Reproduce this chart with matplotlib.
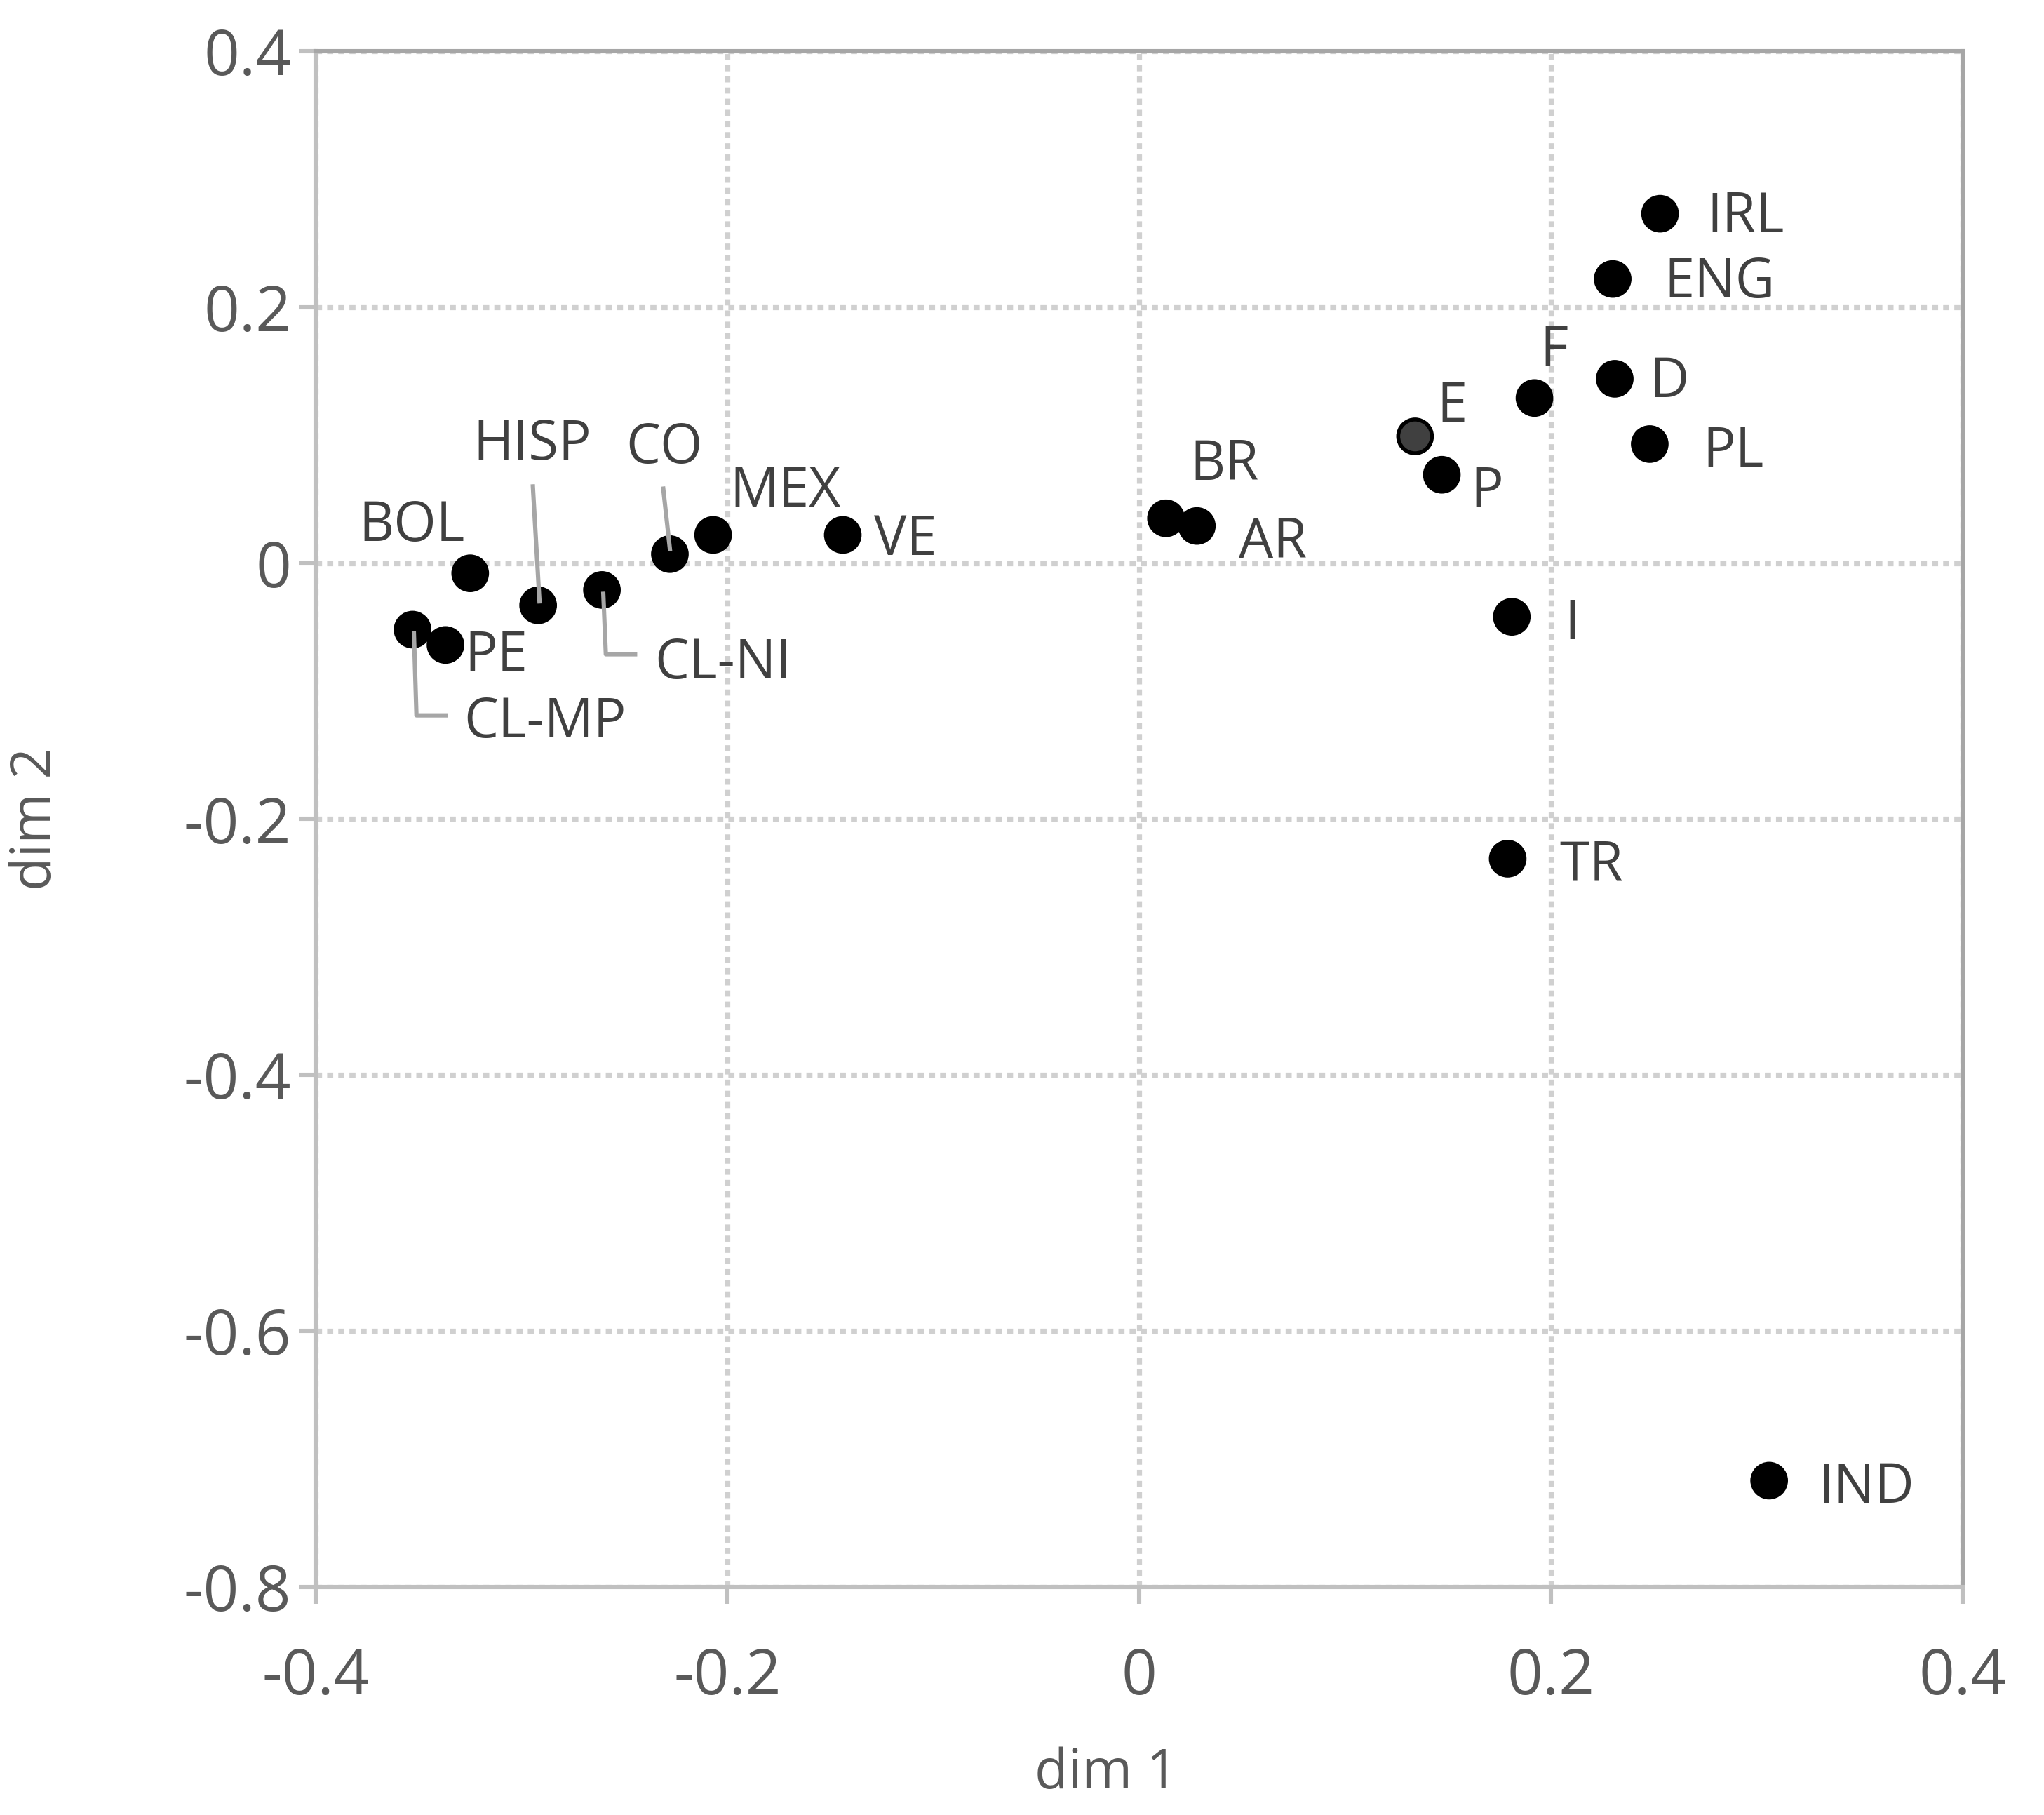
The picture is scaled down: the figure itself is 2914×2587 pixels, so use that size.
import matplotlib
matplotlib.use("Agg")
import matplotlib.pyplot as plt
from matplotlib.transforms import offset_copy

plt.rcParams['font.family'] = ['Open Sans', 'DejaVu Sans']

# ---- data ----
names = ["IRL", "ENG", "F", "D", "E", "P", "PL", "BR", "AR", "I", "TR", "IND",
         "VE", "MEX", "CO", "CL-NI", "HISP", "BOL", "PE", "CL-MP"]
dim1 = [0.253, 0.230, 0.192, 0.231, 0.134, 0.147, 0.248, 0.013, 0.028, 0.181, 0.179, 0.306,
        -0.144, -0.207, -0.228, -0.261, -0.292, -0.325, -0.337, -0.353]
dim2 = [0.273, 0.222, 0.129, 0.144, 0.099, 0.069, 0.093, 0.035, 0.029, -0.042, -0.231, -0.717,
        0.022, 0.022, 0.007, -0.021, -0.033, -0.008, -0.064, -0.052]

xticks = [-0.4, -0.2, 0, 0.2, 0.4]
yticks = [0.4, 0.2, 0, -0.2, -0.4, -0.6, -0.8]

# label offsets in points from each marker
lab_off = {"IRL": (44, -2), "ENG": (55, -2), "F": (10, 24), "D": (28, -2), "E": (19, 15),
           "P": (23, -9), "PL": (43, -4), "BR": (30, 27), "AR": (39, -9), "I": (31, -4),
           "TR": (43, -4), "IND": (50, -4), "VE": (32, -3), "MEX": (37, 22), "CO": (-3, 54),
           "HISP": (-3, 82), "BOL": (-30, 24), "PE": (26, -6), "CL-NI": (62, -38),
           "CL-MP": (68, -48)}
# leader lines, in points from the marker
leaders = {"HISP": [(0.7, 2), (-2.7, 61)],
           "CO": [(0, 2.7), (-3.4, 33.6)],
           "CL-NI": [(0.7, -2), (2, -33), (17, -33)],
           "CL-MP": [(0.7, -2), (2, -44), (17, -44)]}

fig = plt.figure(figsize=(14.57, 12.935), dpi=200)
ax = fig.add_axes([0.1545, 0.1257, 0.8057, 0.8461])

ax.set_xlim(-0.4, 0.4)
ax.set_ylim(-0.8, 0.4)
ax.set_xticks(xticks)
ax.set_yticks(yticks)
ax.set_xticklabels(["-0.4", "-0.2", "0", "0.2", "0.4"])
ax.set_yticklabels(["0.4", "0.2", "0", "-0.2", "-0.4", "-0.6", "-0.8"])
ax.grid(True, color="#d0d0d0", linestyle=(0, (1.2, 1.0)), linewidth=2.6)
ax.set_axisbelow(True)

for s in ["left", "bottom"]:
    ax.spines[s].set_color("#c0c0c0")
    ax.spines[s].set_linewidth(2.2)
for s in ["top", "right"]:
    ax.spines[s].set_color("#a6a6a6")
    ax.spines[s].set_linewidth(2.2)

ax.tick_params(axis="both", colors="#c0c0c0", length=8.5, width=2.2, labelcolor="#595959",
               labelsize=32)
ax.tick_params(axis="x", pad=22)
ax.tick_params(axis="y", pad=4)

fills = ["#404040" if n == "E" else "black" for n in names]
ax.scatter(dim1, dim2, s=300, c=fills, edgecolors="black", linewidths=2, zorder=3)

for n, x, y in zip(names, dim1, dim2):
    dx, dy = lab_off[n]
    ax.annotate(n, (x, y), xytext=(dx, dy), textcoords="offset points",
                ha="center", va="center", fontsize=28, color="#404040", zorder=4)
    if n in leaders:
        xs, ys = [], []
        for px, py in leaders[n]:
            t = offset_copy(ax.transData, fig=fig, x=px, y=py, units="points")
            xd, yd = ax.transData.inverted().transform(t.transform((x, y)))
            xs.append(xd)
            ys.append(yd)
        ax.plot(xs, ys, color="#a6a6a6", linewidth=2.2, zorder=5)

ax.set_xlabel("dim 1", fontsize=28, color="#595959")
ax.set_ylabel("dim 2", fontsize=28, color="#595959")
ax.xaxis.set_label_coords(0.48, -0.104)
ax.yaxis.set_label_coords(-0.153, 0.5)

fig.savefig("out.png", dpi=200)
